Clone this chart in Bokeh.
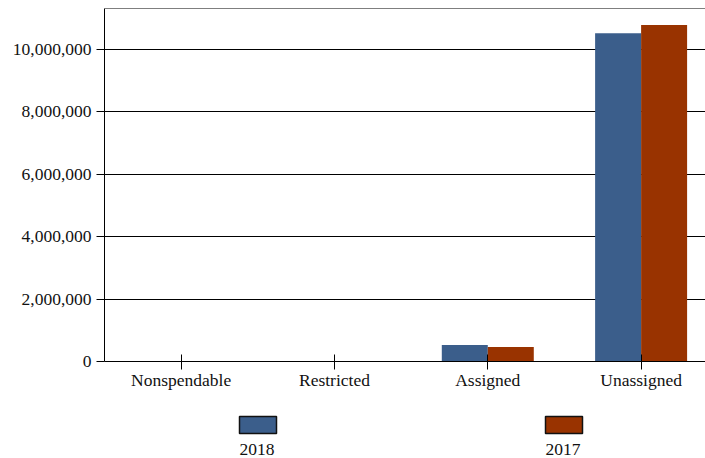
from bokeh.plotting import figure
from bokeh.models import Range1d, FixedTicker, NumeralTickFormatter, Span, ColumnDataSource
from bokeh.layouts import column
from bokeh.embed import file_html
from bokeh.resources import INLINE
from bokeh.core.properties import value

categories = ["Nonspendable", "Restricted", "Assigned", "Unassigned"]
series_names = ["2018", "2017"]
values_2018 = [0, 0, 530000, 10515000]
values_2017 = [0, 0, 468000, 10780000]
y_ticks = [0, 2000000, 4000000, 6000000, 8000000, 10000000]

colors = ["#3B5E8B", "#993300"]
FONT = "Liberation Serif"
FS = "17.5px"
W = 705
H_MAIN = 392
H_LEG = 66
LEFT = 104
Y_END = 11310000
X_END = 3.92
BAR_W = 0.3

p = figure(width=W, height=H_MAIN, output_backend="svg", toolbar_location=None,
           x_range=Range1d(0, X_END), y_range=Range1d(0, Y_END),
           min_border_left=LEFT, min_border_top=8, min_border_right=0, min_border_bottom=30)

idx = list(range(len(categories)))
src = ColumnDataSource(dict(
    x18=[i + 0.5 - BAR_W / 2 for i in idx],
    x17=[i + 0.5 + BAR_W / 2 for i in idx],
    v18=values_2018, v17=values_2017))
p.vbar(x="x18", top="v18", width=BAR_W, source=src, fill_color=colors[0], line_color=None)
p.vbar(x="x17", top="v17", width=BAR_W, source=src, fill_color=colors[1], line_color=None)

p.outline_line_color = None
p.add_layout(Span(location=Y_END, dimension="width", line_color="black", line_width=1))

p.xgrid.visible = False
p.ygrid.grid_line_color = "black"
p.ygrid.grid_line_alpha = 1
p.ygrid.ticker = FixedTicker(ticks=y_ticks)

p.xaxis.ticker = FixedTicker(ticks=[i + 0.5 for i in idx])
p.xaxis.major_label_overrides = {i + 0.5: c for i, c in zip(idx, categories)}
p.xaxis.major_tick_in = 7
p.xaxis.major_tick_out = 8
p.xaxis.minor_tick_line_color = None
p.xaxis.major_label_standoff = 0

p.yaxis.ticker = FixedTicker(ticks=y_ticks)
p.yaxis.formatter = NumeralTickFormatter(format="0,0")
p.yaxis.major_tick_in = 0
p.yaxis.major_tick_out = 8
p.yaxis.minor_tick_line_color = None
p.yaxis.major_label_standoff = 5

for ax in (p.xaxis, p.yaxis):
    ax.axis_line_color = "black"
    ax.major_tick_line_color = "black"
    ax.major_label_text_font = FONT
    ax.major_label_text_font_size = FS
    ax.major_label_text_color = "#111111"

# legend figure (its frame is aligned with the main frame, so use page-like x units)
leg = figure(width=W, height=H_LEG, output_backend="svg", toolbar_location=None,
             x_range=Range1d(LEFT, W), y_range=Range1d(H_LEG, 0),
             min_border=0)
leg.axis.visible = False
leg.grid.visible = False
leg.outline_line_color = None
box_left = [239, 545]
box_w, box_h, box_top = 37, 17, 24
leg_src = ColumnDataSource(dict(
    x=[b + box_w / 2 for b in box_left],
    y=[box_top + box_h / 2] * 2,
    c=colors, t=series_names, tx=box_left, ty=[57, 57]))
leg.rect(x="x", y="y", width=box_w, height=box_h, fill_color="c", line_color="#111111",
         line_width=1.5, source=leg_src)
leg.text(x="tx", y="ty", text="t", source=leg_src, text_font=value(FONT),
         text_font_size=FS, text_color="#111111", text_baseline="middle", text_align="left")

layout = column(p, leg, spacing=0)
open("out.html", "w").write(file_html(layout, INLINE))
